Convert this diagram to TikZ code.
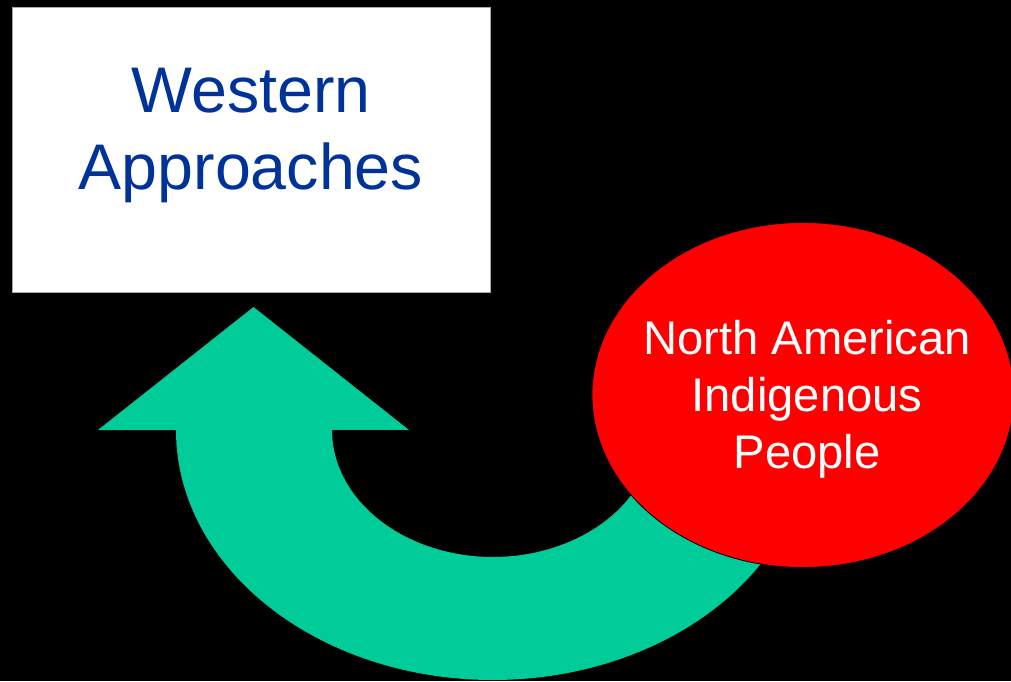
\documentclass[tikz,border=0pt]{standalone}
\usepackage{fontspec}
\setmainfont{Liberation Sans}
\usetikzlibrary{shapes.geometric}
\definecolor{wblue}{HTML}{003399}
\definecolor{agreen}{HTML}{00CC99}
\definecolor{nred}{HTML}{FF0000}
\tikzset{
  wbox/.style={draw=gray!70, line width=0.8pt, fill=white, rectangle, inner sep=0pt},
  bluetext/.style={text=wblue, align=center, inner sep=0pt, font=\fontsize{64.5}{77}\selectfont},
  redoval/.style={ellipse, draw=black, line width=0.8pt, fill=nred, inner sep=0pt},
  whitetext/.style={text=white, align=center, inner sep=0pt, font=\fontsize{47.2}{57}\selectfont},
  greenarrow/.style={fill=agreen, draw=none}
}
\begin{document}
\begin{tikzpicture}[x=1pt,y=1pt]
  \fill[black] (0,0) rectangle (1011,681);
  \useasboundingbox (0,0) rectangle (1011,681);
  % Western Approaches box
  \node[wbox, minimum width=478pt, minimum height=285pt] (wa) at (251,531.5) {};
  \node[bluetext] (watext) at (251,545) {Western\\Approaches};
  % curved green arrow
  \path[greenarrow] (176,251) arc[start angle=180, end angle=340, x radius=317, y radius=250]
    -- (644.3,207.6) arc[start angle=340, end angle=180, x radius=161, y radius=127]
    -- (409,251) -- (253.5,374) -- (98,251) -- cycle;
  % North American Indigenous People
  \node[redoval, minimum width=422pt, minimum height=345pt] (na) at (803,286) {};
  \node[whitetext] (natext) at (807,281.3) {North American\\Indigenous\\People};
\end{tikzpicture}
\end{document}
